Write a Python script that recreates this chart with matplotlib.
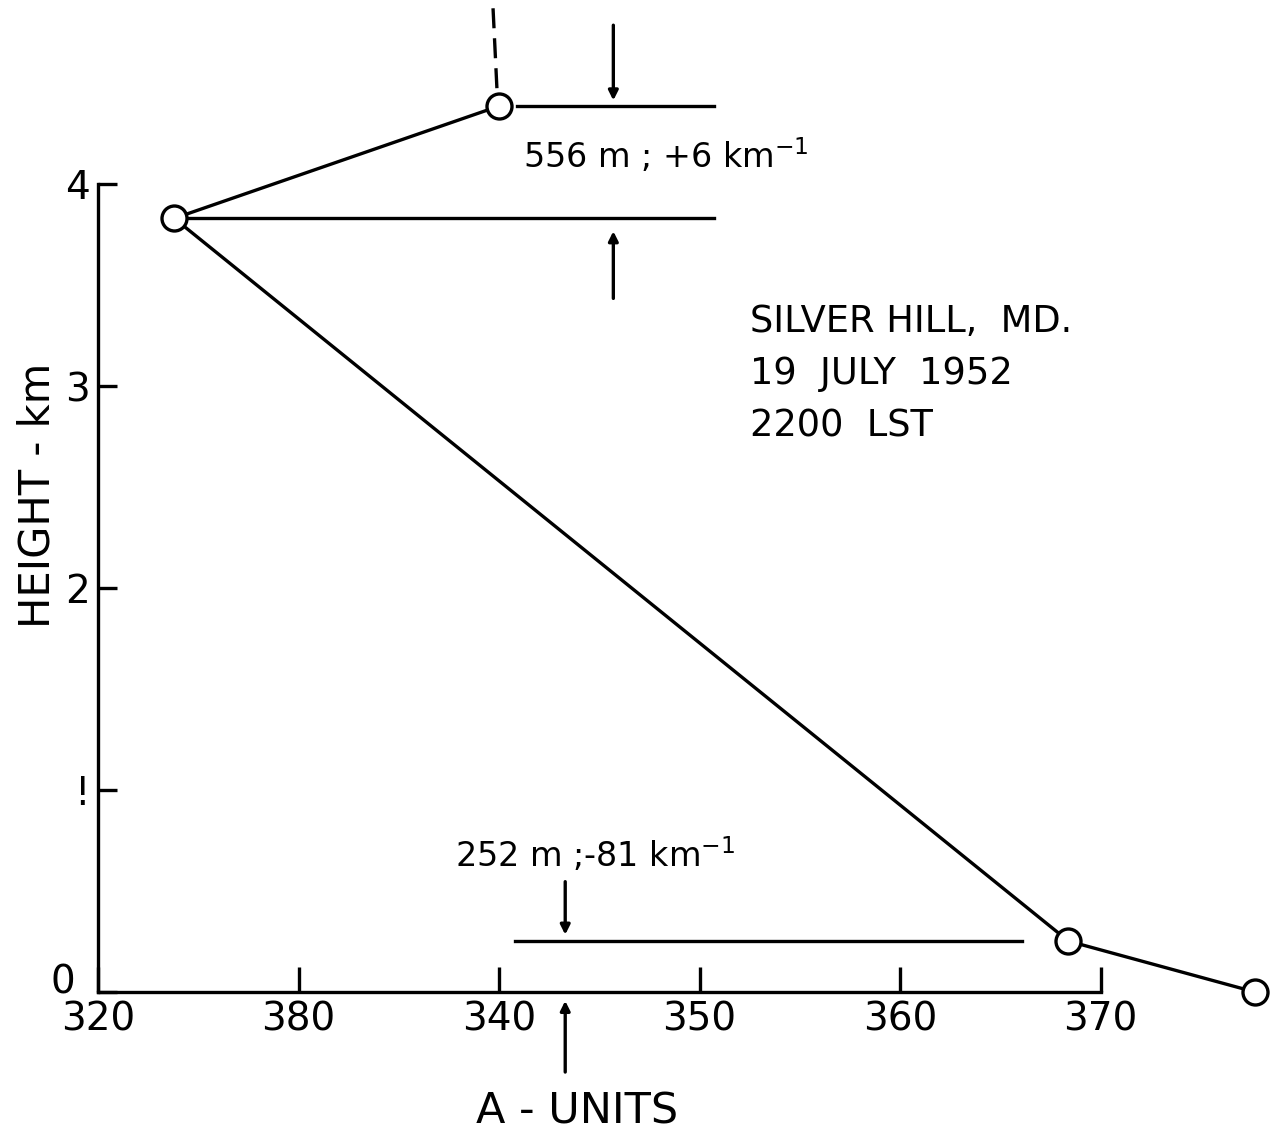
import matplotlib
matplotlib.use("Agg")
import matplotlib.pyplot as plt
import matplotlib.transforms as mtransforms

# Data (A-units vs height km)
a_units = [377.7, 368.4, 323.8, 340.0]
height_km = [0.0, 0.252, 3.83, 4.386]

x_ticks = [320, 330, 340, 350, 360, 370]
x_tick_labels = ["320", "380", "340", "350", "360", "370"]
y_ticks = [0, 1, 2, 3, 4]
y_tick_labels = ["0", "!", "2", "3", "4"]

# layer reference lines (x range, height)
layer_top = ([340.9, 350.7], 4.386)
layer_mid = ([323.8, 350.7], 3.83)
layer_low = ([340.8, 366.1], 0.252)

info_lines = ["SILVER HILL,  MD.", "19  JULY  1952", "2200  LST"]

plt.rcParams['font.family'] = ['DejaVu Sans']
fig = plt.figure(figsize=(12.72, 11.32), dpi=100)
ax = fig.add_axes([0, 0, 1, 1])
ax.set_xlim(315.11, 378.55)
ax.set_ylim(-0.693, 4.911)
ax.patch.set_alpha(0)

lw = 2.4
ax.plot(a_units, height_km, color='black', lw=lw, marker='o', ms=18,
        mfc='white', mec='black', mew=2.4, zorder=5, clip_on=False)

for xs, y in (layer_top, layer_mid, layer_low):
    ax.plot(xs, [y, y], color='black', lw=lw, zorder=3)

# arrows
ap = dict(arrowstyle='-|>', lw=lw, color='black', mutation_scale=14)
ax.annotate("", xy=(345.7, 4.40), xytext=(345.7, 4.80), arrowprops=ap)
ax.annotate("", xy=(345.7, 3.78), xytext=(345.7, 3.42), arrowprops=ap)
ax.annotate("", xy=(343.3, 0.27), xytext=(343.3, 0.56), arrowprops=ap)
ax.annotate("", xy=(343.3, -0.03), xytext=(343.3, -0.41), arrowprops=ap,
            annotation_clip=False)
ax.plot([339.7, 339.9], [4.87, 4.46], color='black', lw=lw,
        linestyle=(0, (6, 3)))

# text annotations
ax.text(341.2, 4.14, "556 m ; +6 km$^{-1}$", fontsize=24, va='center', ha='left')
ax.text(337.8, 0.68, "252 m ;-81 km$^{-1}$", fontsize=24, va='center', ha='left')
for i, s in enumerate(info_lines):
    ax.text(352.5, 3.317 - i * 0.257, s, fontsize=26.5, va='center', ha='left')

# spines
for s in ('top', 'right'):
    ax.spines[s].set_visible(False)
ax.spines['left'].set_position(('data', 320))
ax.spines['bottom'].set_position(('data', 0))
ax.spines['left'].set_bounds(0, 4.0)
ax.spines['bottom'].set_bounds(320, 370)
ax.spines['left'].set_linewidth(lw)
ax.spines['bottom'].set_linewidth(lw)

ax.set_xticks(x_ticks)
ax.set_xticklabels(x_tick_labels)
ax.set_yticks(y_ticks)
ax.set_yticklabels(y_tick_labels)
ax.tick_params(axis='x', direction='in', length=18, width=lw, labelsize=28, pad=6)
ax.tick_params(axis='y', direction='in', length=14, width=lw, labelsize=28, pad=6)

# nudge the "0" label up-left, as in the reference
zero_lbl = ax.get_yticklabels()[0]
zero_lbl.set_transform(zero_lbl.get_transform() +
                       mtransforms.ScaledTranslation(-14 / 100, 14 / 100, fig.dpi_scale_trans))

ax.text(317.0, 2.46, "HEIGHT - km", rotation=90, fontsize=30, ha='center', va='center')
ax.text(343.9, -0.59, "A - UNITS", fontsize=31, ha='center', va='center')

fig.savefig("out.png", dpi=100)
